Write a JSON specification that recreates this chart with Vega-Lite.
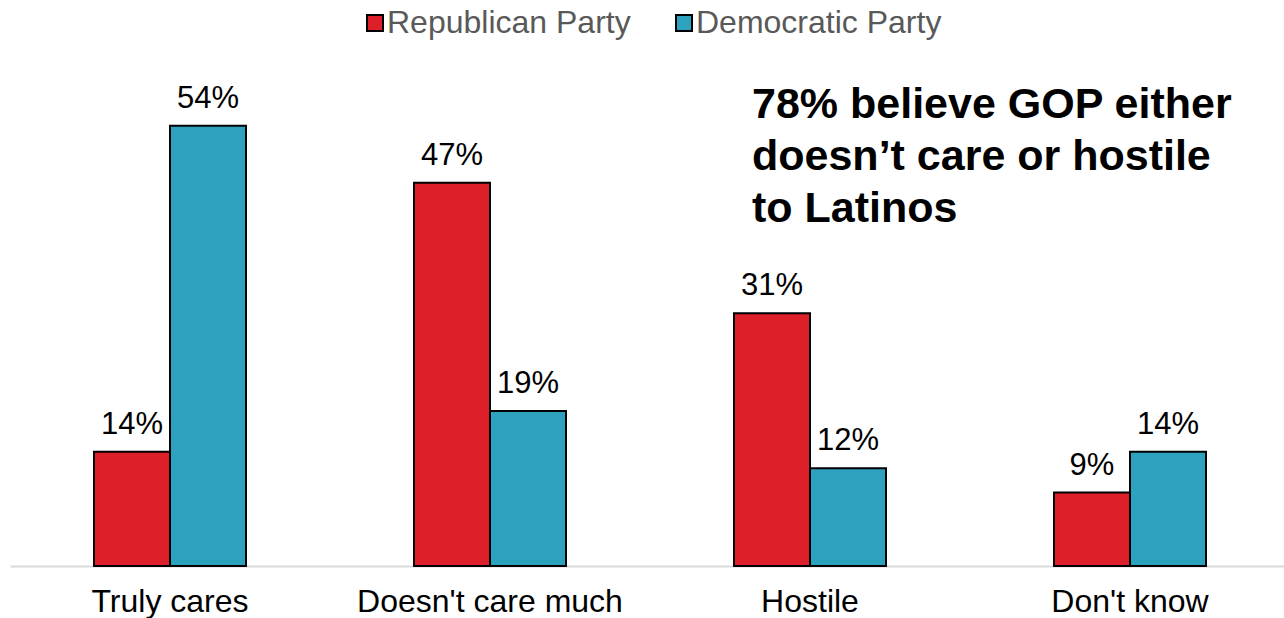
{
  "$schema": "https://vega.github.io/schema/vega-lite/v6.json",
  "width": 1280,
  "height": 530,
  "autosize": {"type": "none"},
  "padding": {"left": 10, "top": 36, "right": 0, "bottom": 52},
  "background": "white",
  "config": {
    "view": {"stroke": null},
    "font": "Liberation Sans"
  },
  "data": {
    "values": [
      {"category": "Truly cares", "party": "Republican Party", "value": 14, "label": "14%"},
      {"category": "Truly cares", "party": "Democratic Party", "value": 54, "label": "54%"},
      {"category": "Doesn't care much", "party": "Republican Party", "value": 47, "label": "47%"},
      {"category": "Doesn't care much", "party": "Democratic Party", "value": 19, "label": "19%"},
      {"category": "Hostile", "party": "Republican Party", "value": 31, "label": "31%"},
      {"category": "Hostile", "party": "Democratic Party", "value": 12, "label": "12%"},
      {"category": "Don't know", "party": "Republican Party", "value": 9, "label": "9%"},
      {"category": "Don't know", "party": "Democratic Party", "value": 14, "label": "14%"}
    ]
  },
  "encoding": {
    "x": {
      "field": "category",
      "type": "nominal",
      "sort": ["Truly cares", "Doesn't care much", "Hostile", "Don't know"],
      "scale": {"paddingInner": 0.525, "paddingOuter": 0.2625},
      "axis": {
        "title": null,
        "labelAngle": 0,
        "labelFontSize": 32,
        "labelColor": "black",
        "labelBaseline": "alphabetic",
        "labelPadding": 45,
        "labelLimit": 500,
        "ticks": false,
        "domainColor": "#d9d9d9",
        "domainWidth": 2,
        "grid": false
      }
    },
    "xOffset": {
      "field": "party",
      "type": "nominal",
      "sort": ["Republican Party", "Democratic Party"],
      "scale": {"paddingInner": 0, "paddingOuter": 0}
    }
  },
  "layer": [
    {
      "mark": {"type": "bar", "stroke": "black", "strokeWidth": 2},
      "encoding": {
        "y": {
          "field": "value",
          "type": "quantitative",
          "scale": {"domain": [0, 65], "nice": false},
          "axis": null
        },
        "color": {
          "field": "party",
          "type": "nominal",
          "sort": ["Republican Party", "Democratic Party"],
          "scale": {"domain": ["Republican Party", "Democratic Party"], "range": ["#DC1F28", "#2CA2BF"]},
          "legend": {
            "title": null,
            "orient": "none",
            "legendX": 349,
            "legendY": -29,
            "direction": "horizontal",
            "columns": 2,
            "columnPadding": 37,
            "padding": 0,
            "symbolType": "square",
            "symbolSize": 256,
            "symbolStrokeColor": "black",
            "symbolStrokeWidth": 2,
            "labelFontSize": 32,
            "labelColor": "#595959",
            "labelOffset": -4,
            "labelLimit": 400
          }
        }
      }
    },
    {
      "mark": {"type": "text", "fontSize": 31, "color": "black", "baseline": "alphabetic", "dy": -18},
      "encoding": {
        "y": {"field": "value", "type": "quantitative"},
        "text": {"field": "label", "type": "nominal"}
      }
    },
    {
      "data": {"values": [{"note": "x"}]},
      "mark": {
        "type": "text",
        "text": ["78% believe GOP either", "doesn’t care or hostile", "to Latinos"],
        "fontSize": 43,
        "fontWeight": "bold",
        "color": "black",
        "align": "left",
        "baseline": "alphabetic",
        "lineHeight": 52,
        "dx": -58
      },
      "encoding": {
        "x": {"datum": "Hostile"},
        "xOffset": null,
        "y": {"datum": 55}
      }
    }
  ]
}
